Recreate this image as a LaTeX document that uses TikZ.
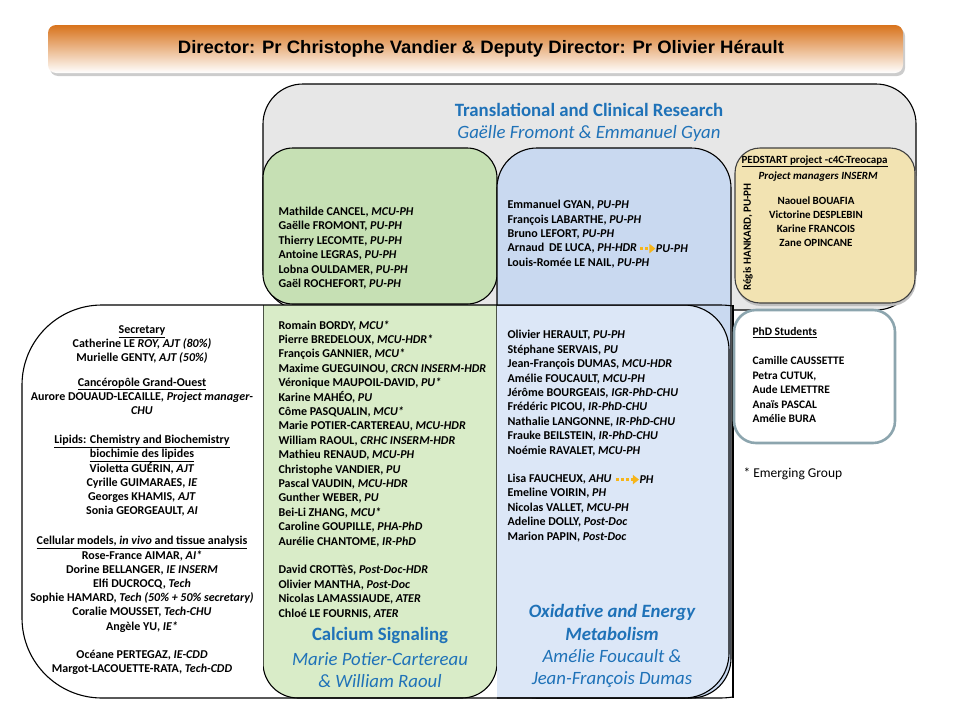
\documentclass[tikz,border=0pt]{standalone}
\usepackage{fontspec}
\setmainfont{Carlito}
\newfontfamily\headfont{Liberation Sans}
\usetikzlibrary{arrows.meta,positioning}
\definecolor{barorange}{HTML}{D8731C}
\definecolor{teamblue}{HTML}{1F72B8}
\definecolor{greyzone}{HTML}{E7E7E7}
\definecolor{greenup}{HTML}{C6E0B4}
\definecolor{greenlow}{HTML}{D9ECC8}
\definecolor{blueup}{HTML}{C9D9F0}
\definecolor{bluelow}{HTML}{DCE7F7}
\definecolor{pedyellow}{HTML}{F2E3B2}
\definecolor{phdframe}{HTML}{8CA5AE}
\definecolor{promo}{HTML}{F6B51A}
\newcommand{\staff}{\fontsize{12}{14.4}\selectfont\bfseries}
\newcommand{\pedstaff}{\fontsize{11}{14.2}\selectfont\bfseries}
\begin{document}
\begin{tikzpicture}[x=1pt,y=-1pt,line width=1.1pt]
\tikzset{people/.style={anchor=north west,align=left,inner sep=0pt,font=\staff},
  crew/.style={anchor=north,align=center,inner sep=0pt,font=\fontsize{12}{14.2}\selectfont\bfseries},
  team/.style={align=center,inner sep=0pt,text=teamblue,font=\fontsize{18.8}{22.8}\selectfont},
  upgrade/.style={draw=promo,line width=2.4pt,dash pattern=on 3pt off 2pt,-{Triangle[length=6pt,width=9pt]}}}
\useasboundingbox (0,0) rectangle (960,720);
% director bar
\fill [black!20,rounded corners=8pt] (50,28) rectangle (905,76);
\shade [top color=barorange,bottom color=white,rounded corners=8pt] (48,25) rectangle (903,73);
\node (dir) at (481,49) {\headfont\bfseries\fontsize{18}{20}\selectfont\scalebox{1.03}[1]{Director: Pr Christophe Vandier \& Deputy Director: Pr Olivier Hérault}};
% team boxes
\filldraw [fill=greyzone,rounded corners=40pt] (263,84) rectangle (916,310);
\filldraw [fill=greenup,rounded corners=30pt] (263,148) rectangle (497,304);
\fill [black!25,rounded corners=25pt] (736,151) rectangle (916,306);
\filldraw [fill=pedyellow,draw=black!75,rounded corners=25pt] (735,148) rectangle (915,303);
\begin{scope}
\clip (0,300) rectangle (733,720);
\fill [white,rounded corners=80pt] (22,305) rectangle (800,698);
\end{scope}
\filldraw [fill=blueup,rounded corners=40pt] (497,148) rectangle (731,698);
\begin{scope}
\clip (263,305) rectangle (733,720);
\filldraw [fill=greenlow,rounded corners=35pt] (263,260) rectangle (497,698);
\end{scope}
\begin{scope}
\clip (497,305) rectangle (733,720);
\filldraw [fill=bluelow,rounded corners=45pt] (440,305) rectangle (729,698);
\end{scope}
\begin{scope}
\clip (0,300) rectangle (733.5,720);
\draw [rounded corners=80pt] (22,305) rectangle (800,698);
\end{scope}
\draw (733,305) -- (733,698);
\filldraw [fill=white,draw=phdframe,line width=2.6pt,rounded corners=22pt] (734,310) rectangle (895,443);
% headings
\node [team] (trans) at (589,110) {\bfseries Translational and Clinical Research};
\node [team] (transby) at (589,133) {\itshape Gaëlle Fromont \& Emmanuel Gyan};
\node [team] (calc) at (380,635) {\bfseries Calcium Signaling};
\node [team] (calcby) at (380,670) {\itshape Marie Potier-Cartereau\\\itshape \& William Raoul};
\node [team] (oxy) at (612,622.5) {\bfseries\itshape Oxidative and Energy\\\bfseries\itshape Metabolism};
\node [team] (oxyby) at (612,668.5) {\itshape Amélie Foucault \&\\\itshape Jean-François Dumas};
% common platform
\node [crew] (platform) at (142,325) {\underline{Secretary}\\
Catherine LE \textit{ROY, AJT (80\%)}\\
Murielle GENTY, \textit{AJT (50\%)}\\[10pt]
\underline{Cancéropôle Grand-Ouest}\\
Aurore DOUAUD-LECAILLE, \textit{Project manager-}\\
\textit{CHU}\\[15pt]
\underline{Lipids: Chemistry and Biochemistry}\\
\underline{biochimie des lipides}\\
Violetta GUÉRIN, \textit{AJT}\\
Cyrille GUIMARAES, \textit{IE}\\
Georges KHAMIS, \textit{AJT}\\
Sonia GEORGEAULT, \textit{AI}\\[16pt]
\underline{Cellular models, \textit{in vivo} and tissue analysis}\\
Rose-France AIMAR, \textit{AI*}\\
Dorine BELLANGER, \textit{IE INSERM}\\
Elfi DUCROCQ, \textit{Tech}\\
Sophie HAMARD, \textit{Tech (50\% + 50\% secretary)}\\
Coralie MOUSSET, \textit{Tech-CHU}\\
Angèle YU, \textit{IE*}\\[14pt]
Océane PERTEGAZ, \textit{IE-CDD}\\
Margot-LACOUETTE-RATA, \textit{Tech-CDD}};
% calcium
\node [people] (calcclin) at (278,206.5) {Mathilde CANCEL, \textit{MCU-PH}\\
Gaëlle FROMONT, \textit{PU-PH}\\
Thierry LECOMTE, \textit{PU-PH}\\
Antoine LEGRAS, \textit{PU-PH}\\
Lobna OULDAMER, \textit{PU-PH}\\
Gaël ROCHEFORT, \textit{PU-PH}};
\node [people] (calcteam) at (278,320) {Romain BORDY, \textit{MCU*}\\
Pierre BREDELOUX, \textit{MCU-HDR*}\\
François GANNIER, \textit{MCU*}\\
Maxime GUEGUINOU, \textit{CRCN INSERM-HDR}\\
Véronique MAUPOIL-DAVID, \textit{PU*}\\
Karine MAHÉO, \textit{PU}\\
Côme PASQUALIN, \textit{MCU*}\\
Marie POTIER-CARTEREAU, \textit{MCU-HDR}\\
William RAOUL, \textit{CRHC INSERM-HDR}\\
Mathieu RENAUD, \textit{MCU-PH}\\
Christophe VANDIER, \textit{PU}\\
Pascal VAUDIN, \textit{MCU-HDR}\\
Gunther WEBER, \textit{PU}\\
Bei-Li ZHANG, \textit{MCU*}\\
Caroline GOUPILLE, \textit{PHA-PhD}\\
Aurélie CHANTOME, \textit{IR-PhD}\\[14.4pt]
David CROTTèS, \textit{Post-Doc-HDR}\\
Olivier MANTHA, \textit{Post-Doc}\\
Nicolas LAMASSIAUDE, \textit{ATER}\\
Chloé LE FOURNIS, \textit{ATER}};
% oxidative
\node [people] (oxyclin) at (507,200) {Emmanuel GYAN, \textit{PU-PH}\\
François LABARTHE, \textit{PU-PH}\\
Bruno LEFORT, \textit{PU-PH}};
\node [people] (arnaud) at (507,243) {Arnaud\, DE LUCA, \textit{PH-HDR}};
\coordinate [right=3pt of arnaud.east] (arnaudfrom);
\node [people,anchor=west,right=18pt of arnaud.east] (arnaudpu) {\textit{PU-PH}};
\draw [upgrade] (arnaudfrom) -- (arnaudpu.west);
\node [people] (lenail) at (507,258) {Louis-Romée LE NAIL, \textit{PU-PH}};
\node [people] (oxyteam) at (507,330) {Olivier HERAULT, \textit{PU-PH}\\
Stéphane SERVAIS, \textit{PU}\\
Jean-François DUMAS, \textit{MCU-HDR}\\
Amélie FOUCAULT, \textit{MCU-PH}\\
Jérôme BOURGEAIS, \textit{IGR-PhD-CHU}\\
Frédéric PICOU, \textit{IR-PhD-CHU}\\
Nathalie LANGONNE, \textit{IR-PhD-CHU}\\
Frauke BEILSTEIN, \textit{IR-PhD-CHU}\\
Noémie RAVALET, \textit{MCU-PH}};
\node [people] (lisa) at (507,474) {Lisa FAUCHEUX, \textit{AHU}};
\coordinate [right=4pt of lisa.east] (lisafrom);
\node [people,anchor=west,right=27pt of lisa.east] (lisaph) {\textit{PH}};
\draw [upgrade] (lisafrom) -- (lisaph.west);
\node [people] (oxylate) at (507,488) {Emeline VOIRIN, \textit{PH}\\
Nicolas VALLET, \textit{MCU-PH}\\
Adeline DOLLY, \textit{Post-Doc}\\
Marion PAPIN, \textit{Post-Doc}};
% pedstart
\node [people,font=\pedstaff] (ped) at (741,155) {\underline{PEDSTART project -c4C-Treocapa}};
\node [people,font=\pedstaff] (pedman) at (758,171) {\textit{Project managers INSERM}};
\node [people,font=\pedstaff,anchor=north,align=center] (pedteam) at (816,196) {Naouel BOUAFIA\\Victorine DESPLEBIN\\Karine FRANCOIS\\Zane OPINCANE};
\node [font=\pedstaff,rotate=90,inner sep=0pt] (regis) at (748,237) {Régis HANKARD, PU-PH};
% phd
\node [people,font=\fontsize{11.5}{14.5}\selectfont\bfseries] (phdhead) at (752,327) {\underline{PhD Students}};
\node [people,font=\fontsize{11.5}{14.5}\selectfont\bfseries] (phd) at (752,356) {Camille CAUSSETTE\\Petra CUTUK,\\Aude LEMETTRE\\Anaïs PASCAL\\Amélie BURA};
\node [anchor=west,inner sep=0pt,font=\fontsize{13.5}{15}\selectfont] (emerging) at (743,474) {* Emerging Group};
\end{tikzpicture}
\end{document}
